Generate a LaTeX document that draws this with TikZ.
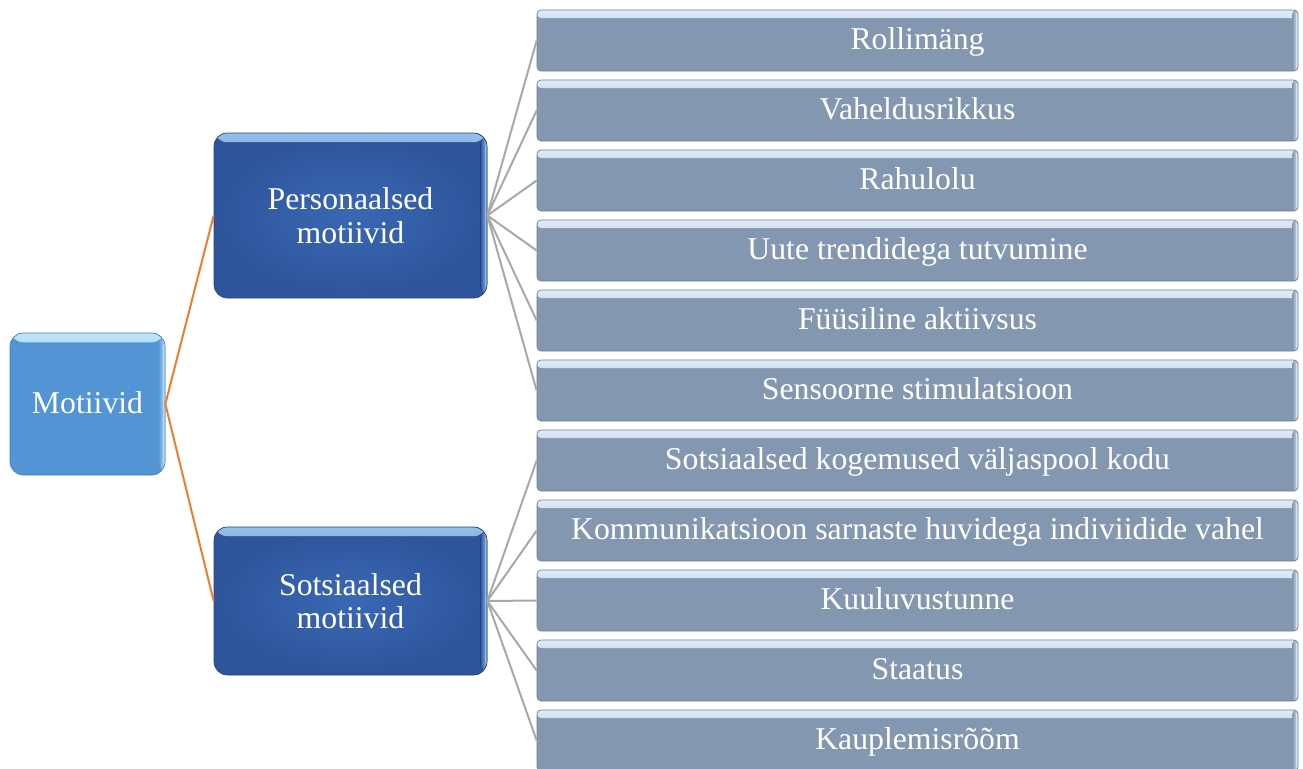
\documentclass[tikz,border=0pt]{standalone}
\usepackage{fontspec}
\setmainfont{Liberation Serif}
\definecolor{leafc}{RGB}{132,151,176}
\definecolor{leafhl}{RGB}{222,236,250}
\definecolor{darkc}{RGB}{46,84,155}
\definecolor{darkin}{RGB}{58,104,180}
\definecolor{darkhl}{RGB}{150,190,235}
\definecolor{motc}{RGB}{82,148,212}
\definecolor{mothl}{RGB}{190,228,250}
\definecolor{conng}{RGB}{168,168,168}
\definecolor{conno}{RGB}{237,125,49}
\begin{document}
\begin{tikzpicture}[x=0.75pt,y=-0.75pt,
  bevel/.style n args={3}{path picture={
    \fill[top color=#2, bottom color=#1] (path picture bounding box.north west) rectangle ([yshift=-#3]path picture bounding box.north east);
    \fill[left color=#1, right color=#2] ([xshift=-0.7*#3]path picture bounding box.north east) rectangle (path picture bounding box.south east);
    \fill[#2] ([xshift=-1.2pt]path picture bounding box.north east) rectangle (path picture bounding box.south east);
  }},
  txt/.style={text=white, font=\fontsize{23.8pt}{25pt}\selectfont, align=center, inner sep=0pt},
  oneline/.style={text height=17pt, text depth=3pt},
  leaf/.style={txt, oneline, rectangle, rounded corners=3pt, fill=leafc, draw=leafc!85!black, line width=0.5pt,
    minimum width=570.75pt, minimum height=45.75pt, bevel={leafc}{leafhl}{6pt}},
  dark/.style={txt, rectangle, rounded corners=10pt, inner color=darkin, outer color=darkc, draw=darkc!80!black, line width=0.5pt,
    minimum width=204.75pt, bevel={darkc}{darkhl}{7pt}},
  mot/.style={txt, oneline, rectangle, rounded corners=10pt, fill=motc, draw=motc!85!black, line width=0.5pt,
    minimum width=116.25pt, minimum height=106.5pt, bevel={motc}{mothl}{7pt}},
  conn/.style={draw=conng, line width=1.5pt},
  conno/.style={draw=conno, line width=1.5pt}
]
\useasboundingbox (0,0) rectangle (1303,768);
\clip (0,0) rectangle (1303,768);

\node[mot] (mot) at (87.5,404) {Motiivid};
\node[dark, minimum height=123.75pt] (pers) at (350.5,215.5) {Personaalsed\\motiivid};
\node[dark, minimum height=111pt] (sots) at (350.5,601) {Sotsiaalsed\\motiivid};

\node[leaf] (l1) at (917.5,40.5) {Rollimäng};
\node[leaf] (l2) at (917.5,110.5) {Vaheldusrikkus};
\node[leaf] (l3) at (917.5,180.5) {Rahulolu};
\node[leaf] (l4) at (917.5,250.5) {Uute trendidega tutvumine};
\node[leaf] (l5) at (917.5,320.5) {Füüsiline aktiivsus};
\node[leaf] (l6) at (917.5,390.5) {Sensoorne stimulatsioon};
\node[leaf] (l7) at (917.5,460.5) {Sotsiaalsed kogemused väljaspool kodu};
\node[leaf] (l8) at (917.5,530.5) {Kommunikatsioon sarnaste huvidega indiviidide vahel};
\node[leaf] (l9) at (917.5,600.5) {Kuuluvustunne};
\node[leaf] (l10) at (917.5,670.5) {Staatus};
\node[leaf] (l11) at (917.5,740.5) {Kauplemisrõõm};

\draw[conno] (mot.east) -- (pers.west);
\draw[conno] (mot.east) -- (sots.west);
\foreach \i in {1,...,6} { \draw[conn] (pers.east) -- (l\i.west); }
\foreach \i in {7,...,11} { \draw[conn] (sots.east) -- (l\i.west); }
\end{tikzpicture}
\end{document}
